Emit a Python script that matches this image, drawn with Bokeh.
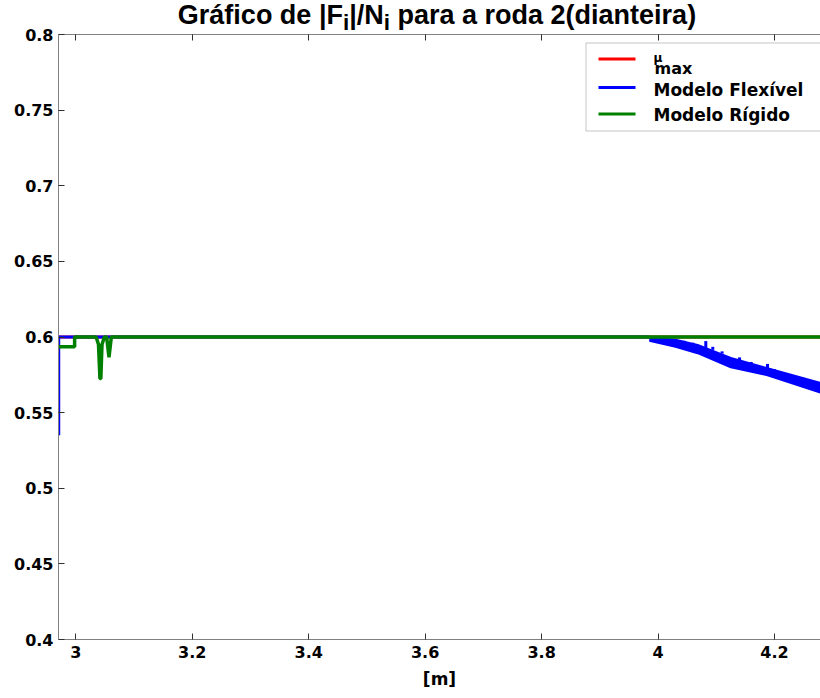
from bokeh.plotting import figure
from bokeh.models import (Range1d, LinearAxis, FixedTicker, CustomJSTickFormatter,
                          Label, BoxAnnotation, Div)
from bokeh.layouts import column
from bokeh.embed import file_html
from bokeh.resources import INLINE

# ---------------- data ----------------
mu_x = [2.9703, 4.279]
mu_y = [0.6, 0.6]

flex_x = [2.9707, 2.9707, 3.985]
flex_y = [0.535, 0.6, 0.6]

band_x = [3.985, 4.030, 4.068, 4.125, 4.188, 4.279]
band_top = [0.6, 0.5982, 0.5947, 0.5862, 0.5793, 0.5697]
band_bot = [0.5975, 0.5935, 0.5893, 0.5800, 0.5747, 0.5633]

spike_x = [4.045, 4.060, 4.082, 4.094, 4.110, 4.140, 4.160, 4.188, 4.200, 4.222, 4.250, 4.265]
spike_base = [0.5955, 0.5945, 0.5925, 0.5915, 0.589, 0.5845, 0.582, 0.5785, 0.5775, 0.5745, 0.5715, 0.570]
spike_top = [0.5975, 0.5962, 0.5973, 0.5935, 0.5905, 0.5865, 0.5835, 0.5822, 0.5787, 0.5753, 0.5730, 0.5712]

rigid_x = [2.9703, 2.998, 2.998, 3.035, 3.039, 3.0415, 3.043, 3.045, 3.049,
           3.053, 3.057, 3.061, 4.279]
rigid_y = [0.5935, 0.5935, 0.6, 0.6, 0.595, 0.5725, 0.5725, 0.595, 0.6,
           0.6, 0.5865, 0.6, 0.6]

x_ticks = [3.0, 3.2, 3.4, 3.6, 3.8, 4.0, 4.2]
y_ticks = [0.4, 0.45, 0.5, 0.55, 0.6, 0.65, 0.7, 0.75, 0.8]

title_html = "Gráfico de |F<sub>i</sub>|/N<sub>i</sub> para a roda 2(dianteira)"

X0, X1 = 2.9703, 4.279
Y0, Y1 = 0.4, 0.8

# ---------------- layout (page pixels) ----------------
FL, FT, FW, FH = 58, 34, 762, 605
TITLE_H = 20            # title box height; the figure starts right below it
TOP_BORDER = FT - TITLE_H
BB = 59


def dx(px):
    return X0 + (px - FL) / FW * (X1 - X0)


def dy(py):
    return Y1 - (py - FT) / FH * (Y1 - Y0)


p = figure(frame_width=FW, frame_height=FH, x_range=Range1d(X0, X1),
           y_range=Range1d(Y0, Y1), output_backend="svg", toolbar_location=None,
           min_border_left=FL, min_border_right=0, min_border_top=TOP_BORDER,
           min_border_bottom=BB, background_fill_color=None,
           border_fill_color=None)
p.outline_line_color = None
p.xgrid.visible = False
p.ygrid.visible = False

fmt = CustomJSTickFormatter(code=r"""
var s = tick.toFixed(2);
s = s.replace(/0+$/, '');
s = s.replace(/\.$/, '');
return s;
""")

bottom_axis = p.below[0]
left_axis = p.left[0]
top_axis = LinearAxis()
p.add_layout(top_axis, "above")

for ax, ticks in [(bottom_axis, x_ticks), (left_axis, y_ticks), (top_axis, x_ticks)]:
    ax.ticker = FixedTicker(ticks=ticks)
    ax.formatter = fmt
    ax.axis_line_color = "#808080"
    ax.axis_line_width = 1
    ax.major_tick_line_color = "#303030"
    ax.major_tick_in = 6
    ax.major_tick_out = 0
    ax.minor_tick_line_color = None
    ax.major_label_text_font = "DejaVu Sans"
    ax.major_label_text_font_style = "bold"
    ax.major_label_text_font_size = "16px"
    ax.major_label_text_color = "black"

bottom_axis.major_label_standoff = 6
bottom_axis.axis_label = "[m]"
bottom_axis.axis_label_text_font = "DejaVu Sans"
bottom_axis.axis_label_text_font_style = "bold"
bottom_axis.axis_label_text_font_size = "17px"
bottom_axis.axis_label_text_color = "black"
bottom_axis.axis_label_standoff = 8
left_axis.major_label_standoff = 5
top_axis.formatter = CustomJSTickFormatter(code="return '';")
top_axis.major_label_standoff = 0

# ---------------- series ----------------
p.line(mu_x, mu_y, line_color="red", line_width=3)
p.line(flex_x, flex_y, line_color="blue", line_width=3)
p.varea(x=band_x, y1=band_bot, y2=band_top, fill_color="blue")
p.line(band_x, band_top, line_color="blue", line_width=2)
p.line(band_x, band_bot, line_color="blue", line_width=2)
p.segment(x0=spike_x, y0=spike_base, x1=spike_x, y1=spike_top,
          line_color="blue", line_width=3)
p.line(rigid_x, rigid_y, line_color="#008000", line_width=3.5)

# ---------------- legend (drawn by hand) ----------------
box = BoxAnnotation(left=dx(585.5), right=dx(840), top=dy(42.5), bottom=dy(130.5),
                    fill_color="white", fill_alpha=1.0, line_color="#404040",
                    line_width=1, level="underlay")
p.add_layout(box)
leg_colors = ["red", "blue", "#008000"]
leg_py = [58.5, 87, 113.5]
for c, py in zip(leg_colors, leg_py):
    p.line([dx(598), dx(635)], [dy(py), dy(py)], line_color=c, line_width=3)


def lab(text, px, py, size, font="DejaVu Sans", style="bold", align="left"):
    # py is the wanted baseline; Label's alphabetic anchor sits ~0.43 em lower
    p.add_layout(Label(x=dx(px), y=dy(py - 0.43 * size), text=text, text_font=font,
                       text_font_style=style, text_font_size=f"{size}px",
                       text_color="black", text_align=align,
                       text_baseline="alphabetic"))


lab("\u03bc", 653, 63, 12)
lab("max", 654, 75, 16)
lab("Modelo Flexível", 653, 97, 17)
lab("Modelo Rígido", 653, 122, 17)

# ---------------- title (HTML, with real subscripts) ----------------
title = Div(text=title_html, width=820, height=TITLE_H, margin=0,
            styles={"font-family": "'Liberation Sans', Arial, sans-serif",
                    "font-weight": "bold", "font-size": "27px",
                    "line-height": "30px", "text-align": "center",
                    "white-space": "nowrap", "color": "black",
                    "padding-left": "54px", "box-sizing": "border-box",
                    "overflow": "visible"})

layout = column(title, p, spacing=0, margin=0)

open("out.html", "w").write(file_html(layout, INLINE))
